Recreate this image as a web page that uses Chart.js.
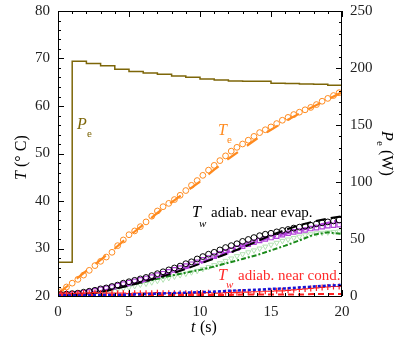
<!DOCTYPE html>
<html>
<head>
<meta charset="utf-8">
<script src="https://cdn.jsdelivr.net/npm/chart.js@4.4.0/dist/chart.umd.min.js"></script>
<style>
html, body { margin: 0; padding: 0; background: #fff; }
#wrap { width: 398px; height: 340px; }
</style>
</head>
<body>
<div id="wrap"><canvas id="mainChart" width="398" height="340"></canvas></div>
<script>
// sample times of the measured points (s)
const tSample = [0.2, 0.6, 1.0, 1.4, 1.8, 2.2, 2.6, 3.0, 3.4, 3.8,
    4.2, 4.6, 5.0, 5.4, 5.8, 6.2, 6.6, 7.0, 7.4, 7.8,
    8.2, 8.6, 9.0, 9.4, 9.8, 10.2, 10.6, 11.0, 11.4, 11.8,
    12.2, 12.6, 13.0, 13.4, 13.8, 14.2, 14.6, 15.0, 15.4, 15.8,
    16.2, 16.6, 17.0, 17.4, 17.8, 18.2, 18.6, 19.0, 19.4, 19.8];
// times of the model lines and of the power steps (s)
const tLine = [0, 1, 2, 3, 4, 5, 6, 7, 8, 9, 10, 11, 12, 13, 14, 15, 16, 17, 18, 19, 20];

// evaporator power P_e (W), one level per second
const pePower = [29.5, 206, 204, 202, 199, 197, 195.6, 194.5, 193, 191.8, 190.3,
    189.5, 188.6, 188.3, 188.3, 186.6, 186.3, 186, 185.7, 184.8, 184.8];

// T_e measured (circles) and model (dashed)
const teMeas = [20.9, 21.9, 22.7, 23.5, 24.4, 25.4, 26.4, 27.3, 28.2, 29.2,
    30.6, 31.8, 32.9, 33.7, 34.6, 35.6, 36.8, 37.9, 38.8, 39.5,
    40.3, 41.2, 42.2, 43.3, 44.3, 45.4, 46.5, 47.5, 48.5, 49.5,
    50.5, 51.3, 52.0, 52.8, 53.6, 54.4, 55.0, 55.6, 56.3, 57.0,
    57.6, 58.2, 58.7, 59.2, 59.7, 60.3, 61.0, 61.6, 62.2, 62.8];
const teModel = [20.5, 22.9, 25.3, 27.6, 30.0, 32.6, 35.0, 37.5, 39.7, 41.9, 44.1,
    46.6, 48.9, 51.0, 53.1, 55.0, 56.8, 58.4, 59.9, 61.4, 62.9];

// T_w near evaporator
const twEvapCirc = [20.3, 20.4, 20.5, 20.6, 20.8, 21.0, 21.2, 21.5, 21.7, 22.0,
    22.3, 22.7, 23.0, 23.3, 23.6, 23.9, 24.3, 24.7, 25.1, 25.5,
    25.9, 26.3, 26.8, 27.2, 27.8, 28.3, 28.8, 29.2, 29.7, 30.2,
    30.6, 31.0, 31.5, 31.9, 32.3, 32.7, 33.0, 33.2, 33.5, 33.8,
    34.0, 34.3, 34.5, 34.7, 34.9, 35.2, 35.4, 35.6, 35.8, 36.0];
const twEvapSq = [20.2, 20.3, 20.4, 20.5, 20.7, 20.9, 21.1, 21.4, 21.6, 21.9,
    22.2, 22.5, 22.8, 23.1, 23.4, 23.7, 24.0, 24.4, 24.7, 25.1,
    25.5, 25.9, 26.3, 26.7, 27.1, 27.6, 28.0, 28.4, 28.9, 29.3,
    29.7, 30.1, 30.5, 30.9, 31.3, 31.7, 32.0, 32.3, 32.6, 32.9,
    33.2, 33.5, 33.7, 33.9, 34.2, 34.4, 34.6, 34.8, 34.9, 35.0];
const twEvapTri = [20.0, 20.1, 20.1, 20.2, 20.3, 20.4, 20.6, 20.8, 21.0, 21.2,
    21.4, 21.6, 21.8, 22.1, 22.4, 22.6, 22.9, 23.2, 23.5, 23.8,
    24.1, 24.4, 24.7, 25.0, 25.3, 25.7, 26.1, 26.5, 26.9, 27.4,
    27.9, 28.4, 28.8, 29.2, 29.6, 30.0, 30.4, 30.8, 31.2, 31.6,
    31.9, 32.2, 32.5, 32.8, 33.0, 33.2, 33.3, 33.4, 33.5, 33.6];
const twEvapDash = [20.1, 20.2, 20.4, 20.8, 21.5, 22.2, 23.0, 23.8, 24.7, 25.7, 26.8,
    27.9, 29.0, 30.2, 31.5, 32.8, 33.9, 34.9, 35.7, 36.3, 36.8];
const twEvapDashDot = [20.1, 20.2, 20.5, 21.0, 21.6, 22.3, 23.1, 24.0, 24.9, 25.9, 26.9,
    28.1, 29.3, 30.5, 31.5, 32.4, 33.1, 33.8, 34.6, 35.4, 36.0];
const twEvapGreen = [20.0, 20.1, 20.4, 20.9, 21.6, 22.2, 22.9, 23.6, 24.3, 24.9, 25.5,
    26.2, 27.0, 27.8, 28.6, 29.6, 30.6, 31.7, 32.9, 33.4, 33.1];

// T_w near condenser
const twCondPlus = [20.6, 20.6, 20.5, 20.6, 20.6, 20.6, 20.7, 20.6, 20.6, 20.6,
    20.6, 20.6, 20.5, 20.6, 20.6, 20.6, 20.6, 20.7, 20.6, 20.6,
    20.6, 20.6, 20.6, 20.6, 20.6, 20.6, 20.7, 20.6, 20.6, 20.7,
    20.7, 20.7, 20.8, 20.8, 20.9, 20.9, 21.0, 21.0, 21.1, 21.1,
    21.2, 21.3, 21.4, 21.5, 21.6, 21.7, 21.8, 21.9, 22.0, 22.0];
const twCondRed = [20.2, 20.2, 20.2, 20.2, 20.2, 20.2, 20.2, 20.2, 20.2, 20.2, 20.2,
    20.2, 20.2, 20.3, 20.3, 20.3, 20.3, 20.3, 20.4, 20.4, 20.4];
const twCondBlue = [20.1, 20.1, 20.1, 20.2, 20.2, 20.3, 20.4, 20.5, 20.6, 20.7, 20.8,
    20.9, 21.1, 21.2, 21.3, 21.5, 21.6, 21.8, 22.0, 22.2, 22.3];

const pts = (xs, ys) => xs.map((x, i) => ({ x: x, y: ys[i] }));
const SERIF = '"Liberation Serif", "Times New Roman", serif';

function markers(data, color, style, radius, width, rotation) {
    return {
        data: data, showLine: false, borderColor: color, backgroundColor: 'rgba(0,0,0,0)',
        pointStyle: style, pointRadius: radius, pointBorderWidth: width,
        pointRotation: rotation || 0, yAxisID: 'y'
    };
}

function line(data, color, width, dash) {
    return {
        data: data, showLine: true, borderColor: color, borderWidth: width, borderDash: dash,
        pointRadius: 0, fill: false, tension: 0, yAxisID: 'y'
    };
}

const framePlugin = {
    id: 'frame',
    afterDraw(chart) {
        const { ctx, chartArea: a, scales } = chart;
        const x = scales.x, y = scales.y, y1 = scales.y1;
        ctx.save();
        ctx.strokeStyle = '#000';
        ctx.lineWidth = 1;
        ctx.strokeRect(a.left + 0.5, a.top + 0.5, a.right - a.left - 1, a.bottom - a.top);
        ctx.beginPath();
        for (let v = 0; v <= 20; v += 1) {
            const px = Math.round(x.getPixelForValue(v)) + 0.5;
            const len = v % 5 === 0 ? 6 : 3;
            ctx.moveTo(px, a.bottom); ctx.lineTo(px, a.bottom - len);
            ctx.moveTo(px, a.top); ctx.lineTo(px, a.top + len);
        }
        for (let v = 20; v <= 80; v += 2) {
            const py = Math.round(y.getPixelForValue(v)) + 0.5;
            ctx.moveTo(a.left, py); ctx.lineTo(a.left + (v % 10 === 0 ? 6 : 3), py);
        }
        for (let v = 0; v <= 250; v += 10) {
            const py = Math.round(y1.getPixelForValue(v)) + 0.5;
            ctx.moveTo(a.right, py); ctx.lineTo(a.right - (v % 50 === 0 ? 6 : 3), py);
        }
        ctx.stroke();

        ctx.textBaseline = 'alphabetic';
        ctx.textAlign = 'left';
        const it = 'italic 16px ' + SERIF, rm = '15px ' + SERIF, sub = '11px ' + SERIF;

        // curve labels
        ctx.fillStyle = '#7d6608';
        ctx.font = it; ctx.fillText('P', 77, 129);
        ctx.font = sub; ctx.fillText('e', 87, 137);

        ctx.fillStyle = '#ff8a1e';
        ctx.font = it; ctx.fillText('T', 218, 135);
        ctx.font = sub; ctx.fillText('e', 227, 143);

        ctx.fillStyle = '#000';
        ctx.font = it; ctx.fillText('T', 192, 217);
        ctx.font = 'italic 11px ' + SERIF; ctx.fillText('w', 199, 227);
        ctx.font = rm; ctx.fillText('adiab. near evap.', 211, 217);

        ctx.fillStyle = '#ff2a2a';
        ctx.font = it; ctx.fillText('T', 218, 280);
        ctx.font = 'italic 11px ' + SERIF; ctx.fillText('w', 226, 288);
        ctx.font = rm; ctx.fillText('adiab. near cond.', 238, 280);

        // axis titles
        ctx.fillStyle = '#000';
        ctx.font = it; ctx.fillText('t', 191, 332);
        ctx.font = '16px ' + SERIF; ctx.fillText(' (s)', 196, 332);

        ctx.save();
        ctx.translate(26, 180);
        ctx.rotate(-Math.PI / 2);
        ctx.font = it; ctx.fillText('T', 0, 0);
        ctx.font = '16px ' + SERIF; ctx.fillText(' (\u00b0 C)', 9, 0);
        ctx.restore();

        ctx.save();
        ctx.translate(382, 131);
        ctx.rotate(Math.PI / 2);
        ctx.font = it; ctx.fillText('P', 0, 0);
        ctx.font = sub; ctx.fillText('e', 10, 5);
        ctx.font = '16px ' + SERIF; ctx.fillText(' (W)', 15, 0);
        ctx.restore();

        ctx.restore();
    }
};

Chart.defaults.font.family = SERIF;
Chart.defaults.font.size = 15;
Chart.defaults.color = '#222';

const ctx = document.getElementById('mainChart').getContext('2d');
new Chart(ctx, {
    type: 'scatter',
    data: {
        datasets: [
            line(pts(tLine, twCondBlue), '#1414d8', 2.5, [3, 2]),
            markers(pts(tSample, twCondPlus), '#ff2020', 'cross', 3, 1.2),
            line(pts(tLine, twCondRed), '#ff2020', 2, [6, 4]),
            markers(pts(tSample, twEvapCirc), '#000000', 'circle', 2.9, 1),
            line(pts(tLine, twEvapDash), '#000000', 2, [10, 5]),
            line(pts(tLine, twEvapDashDot), '#b040d8', 2.5, [10, 4, 3, 4]),
            markers(pts(tSample, twEvapSq), '#b040d8', 'rect', 3.1, 1.2),
            line(pts(tLine, twEvapGreen), '#1a8a1a', 2, [5, 2, 2, 2]),
            markers(pts(tSample, twEvapTri), '#b3e2b3', 'triangle', 3, 1, 180),
            line(pts(tLine, teModel), '#ff8a1e', 2.2, [13, 11]),
            markers(pts(tSample, teMeas), '#ff8a1e', 'circle', 2.9, 1),
            {
                data: pts(tLine, pePower), yAxisID: 'y1', stepped: true, showLine: true,
                borderColor: '#7d6608', borderWidth: 1.5, pointRadius: 0, fill: false
            }
        ]
    },
    options: {
        responsive: false,
        animation: false,
        layout: { padding: { top: 11, left: 0, right: 0, bottom: 0 } },
        plugins: { legend: { display: false }, tooltip: { enabled: false } },
        scales: {
            x: {
                type: 'linear', min: 0, max: 20,
                ticks: { stepSize: 5, padding: 7, color: '#222' },
                grid: { display: false, drawTicks: false }, border: { display: false },
                afterFit: s => { s.height = 44; s.paddingLeft = 0; s.paddingRight = 0; }
            },
            y: {
                type: 'linear', position: 'left', min: 20, max: 80,
                ticks: { stepSize: 10, padding: 8, color: '#222' },
                grid: { display: false, drawTicks: false }, border: { display: false },
                afterFit: s => { s.width = 58; s.paddingTop = 0; s.paddingBottom = 0; }
            },
            y1: {
                type: 'linear', position: 'right', min: 0, max: 250,
                ticks: { stepSize: 50, padding: 8, color: '#222' },
                grid: { display: false, drawTicks: false }, border: { display: false },
                afterFit: s => { s.width = 56; s.paddingTop = 0; s.paddingBottom = 0; }
            }
        }
    },
    plugins: [framePlugin]
});
</script>
</body>
</html>
